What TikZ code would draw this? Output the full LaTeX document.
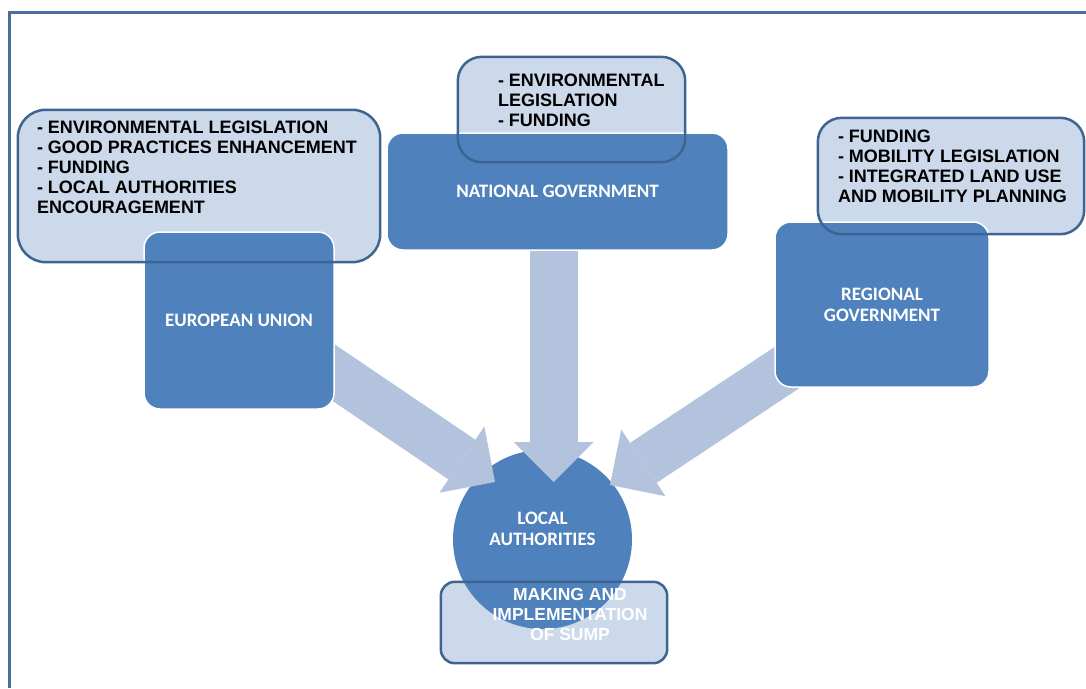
\documentclass[tikz,border=0pt]{standalone}
\usepackage{fontspec}
\setmainfont{Liberation Sans}
\newfontfamily\boxfont{Carlito}
\usetikzlibrary{arrows.meta}

\definecolor{darkbox}{HTML}{4F81BD}
\definecolor{callfill}{HTML}{CCD9EB}
\definecolor{callrimcol}{HTML}{3E6491}
\definecolor{arrowfill}{HTML}{B3C3DE}
\definecolor{framecol}{HTML}{4A6E9E}

\pgfdeclarelayer{fills}
\pgfdeclarelayer{arrows}
\pgfsetlayers{fills,arrows,main}

\tikzset{
    actor/.style={rectangle, rounded corners=16pt, fill=darkbox, draw=white, line width=1.5pt,
        text=white, font=\boxfont\bfseries\fontsize{19}{21}\selectfont, align=center},
    callout/.style={rectangle, rounded corners=#1, fill=callfill, inner sep=0pt},
    callrim/.style={draw=callrimcol, line width=2.5pt, rounded corners=#1},
    calltext/.style={anchor=north west, inner sep=0pt, align=left,
        font=\bfseries\fontsize{18}{20}\selectfont},
    bigarrow/.style={draw=arrowfill, line width=48pt,
        -{Triangle[width=80pt, length=40pt, line width=0pt]}}
}

\begin{document}
\begin{tikzpicture}[x=1pt, y=-1pt]
    \useasboundingbox (0,0) rectangle (1086,688);

    % Outer frame
    \draw[framecol, line width=3pt] (9.5,688) |- (1086,12);

    % Light fills of the callouts and the SUMP box, then the circle
    \begin{pgfonlayer}{fills}
        \node[callout=28pt, minimum width=362pt, minimum height=152pt] (eucall) at (199,186) {};
        \node[callout=24pt, minimum width=227pt, minimum height=105pt] (natcall) at (571.5,109.5) {};
        \node[callout=24pt, minimum width=266pt, minimum height=116pt] (regcall) at (951,176) {};
        \node[callout=14pt, minimum width=226pt, minimum height=81pt] (sump) at (554,622.5) {};
        \node[circle, fill=darkbox, minimum size=179pt, inner sep=0pt,
            label={[yshift=11pt, text=white, align=center, font=\boxfont\bfseries\fontsize{19}{21}\selectfont]center:LOCAL\\AUTHORITIES}] (la) at (542.5,539.5) {};
    \end{pgfonlayer}

    % Levels of government
    \node[actor, minimum width=190pt, minimum height=177pt] (eu) at (239,320.5) {EUROPEAN UNION};
    \node[actor, minimum width=341pt, minimum height=117pt] (nat) at (557.5,191.5) {NATIONAL GOVERNMENT};
    \node[actor, minimum width=214pt, minimum height=165pt] (reg) at (882,304.5) {REGIONAL\\GOVERNMENT};

    % Block arrows towards the local authorities
    \coordinate (eutip) at (495,482);
    \coordinate (natip) at (553.5,482);
    \coordinate (regtip) at (610,485);
    \begin{pgfonlayer}{arrows}
        \draw[bigarrow] ([yshift=12pt]eu.center) -- (eutip);
        \draw[bigarrow] (natip |- nat.center) -- (natip);
        \draw[bigarrow] (reg.center) -- (regtip);
    \end{pgfonlayer}

    % Callout borders and texts
    \draw[callrim=28pt] (eucall.south west) rectangle (eucall.north east);
    \draw[callrim=24pt] (natcall.south west) rectangle (natcall.north east);
    \draw[callrim=24pt] (regcall.south west) rectangle (regcall.north east);
    \draw[callrim=14pt] (sump.south west) rectangle (sump.north east);

    \node[calltext] (eutxt) at ([xshift=19pt, yshift=-11pt]eucall.north west)
        {- ENVIRONMENTAL LEGISLATION\\- GOOD PRACTICES ENHANCEMENT\\- FUNDING\\- LOCAL AUTHORITIES\\ENCOURAGEMENT};
    \node[calltext] (nattxt) at ([xshift=40pt, yshift=-17pt]natcall.north west)
        {- ENVIRONMENTAL\\LEGISLATION\\- FUNDING};
    \node[calltext] (regtxt) at ([xshift=20pt, yshift=-12pt]regcall.north west)
        {- FUNDING\\- MOBILITY LEGISLATION\\- INTEGRATED LAND USE\\AND MOBILITY PLANNING};
    \node[inner sep=0pt, align=center, text=white, font=\bfseries\fontsize{17.5}{20}\selectfont] (sumptxt) at (570,614)
        {MAKING AND\\IMPLEMENTATION\\OF SUMP};
\end{tikzpicture}
\end{document}
